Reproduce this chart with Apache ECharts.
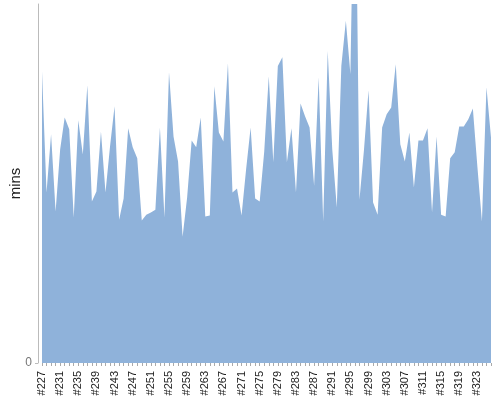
<!DOCTYPE html>
<html><head><meta charset="utf-8">
<script src="https://cdn.jsdelivr.net/npm/echarts@6/dist/echarts.min.js"></script>
<style>html,body{margin:0;padding:0;background:#fff}#c{width:500px;height:400px}</style>
</head><body><div id="c"></div>
<script>
const firstBuild = 227;
const buildCount = 100;
const categories = [];
for (let i = 0; i < buildCount; i++) categories.push('#' + (firstBuild + i));
const durations = [
81.3,47.5,63.7,42.2,59.5,68.4,65.1,40.5,67.6,58.1,
77.4,45.0,47.8,64.5,47.5,60.3,71.5,39.9,45.8,65.4,
60.1,57.0,39.7,41.3,41.9,42.7,65.6,40.5,81.0,63.1,
56.1,35.2,46.1,62.0,60.1,68.4,40.8,41.1,77.1,64.2,
61.7,83.5,47.5,48.6,41.1,53.9,65.6,45.8,45.0,58.9,
79.9,55.9,82.7,85.2,55.9,65.4,47.5,72.3,68.7,65.6,
49.4,79.6,39.4,86.9,59.5,43.3,82.7,95.3,80.4,155,
45.5,59.5,76.0,44.7,41.3,65.6,69.3,71.2,83.2,60.9,
56.1,64.2,48.9,62.0,62.0,65.4,41.9,63.1,41.3,40.8,
57.0,58.7,65.9,65.9,67.9,70.9,54.7,39.4,76.8,62.8
];
const yTitle = 'mins';

const chart = echarts.init(document.getElementById('c'), null, {renderer:'canvas'});
chart.setOption({
  animation:false,
  grid:{left:42,right:9,top:4,bottom:37,containLabel:false,outerBoundsMode:'none'},
  xAxis:{
    type:'category', data:categories, boundaryGap:false,
    axisLine:{show:false},
    axisTick:{show:true, interval:0, length:3, lineStyle:{color:'#aaa'}},
    axisLabel:{interval:3, rotate:90, color:'#222', fontSize:11, fontFamily:'Liberation Sans, Arial, sans-serif', margin:8}
  },
  yAxis:{
    type:'value', min:0, max:100, interval:100, offset:4,
    name:yTitle, nameLocation:'middle', nameGap:15, nameRotate:90, nameMoveOverlap:false,
    nameTextStyle:{color:'#222', fontSize:15, fontFamily:'Liberation Sans, Arial, sans-serif'},
    splitLine:{show:false},
    axisLine:{show:true, lineStyle:{color:'#bbb'}},
    axisTick:{show:true, length:3, lineStyle:{color:'#bbb'}},
    axisLabel:{showMaxLabel:false, color:'#777', fontSize:12, margin:6, fontFamily:'Liberation Sans, Arial, sans-serif'}
  },
  series:[{
    type:'line', data:durations, symbol:'none', clip:true,
    lineStyle:{width:0, color:'#8fb2da'},
    areaStyle:{color:'#8fb2da', opacity:1}
  }]
});
</script></body></html>
